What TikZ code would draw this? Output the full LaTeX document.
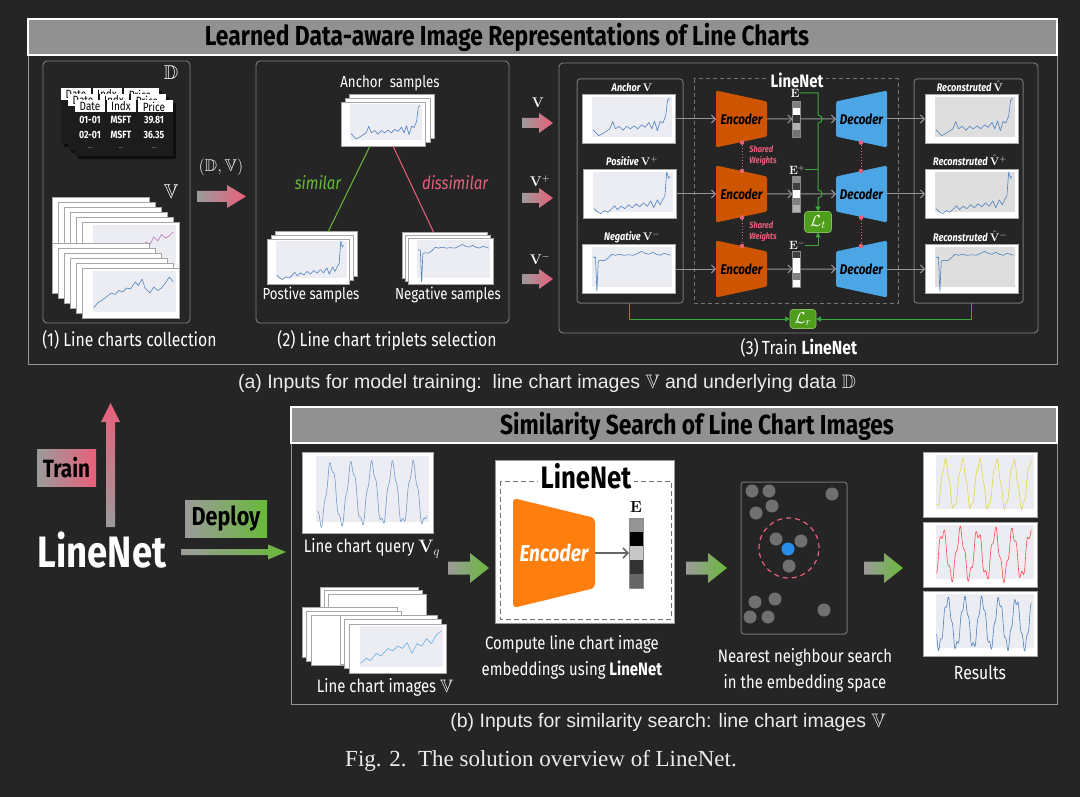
\RequirePackage{fix-cm}
\documentclass[tikz,border=0pt]{standalone}
\usepackage{amsmath,amssymb}
\usepackage[no-math]{fontspec}
\setmainfont{Fira Sans}[FakeStretch=0.83]
\newfontfamily\capfont{Liberation Sans}
\newfontfamily\figfont{Liberation Serif}
\usetikzlibrary{arrows.meta,calc}

\definecolor{bg}{RGB}{37,37,37}
\definecolor{barfill}{RGB}{145,145,145}
\definecolor{pbord}{RGB}{125,125,125}
\definecolor{framec}{RGB}{150,150,150}
\definecolor{pinkA}{RGB}{232,96,122}
\definecolor{greenA}{RGB}{104,185,58}
\definecolor{greyA}{RGB}{155,155,155}
\definecolor{encO}{RGB}{205,85,0}
\definecolor{decB}{RGB}{76,166,230}
\definecolor{encO2}{RGB}{255,127,14}
\definecolor{lossG}{RGB}{78,158,28}
\definecolor{lineG}{RGB}{60,165,60}
\definecolor{plotblue}{RGB}{80,130,190}
\definecolor{plotbg}{RGB}{236,236,243}
\definecolor{arrgray}{RGB}{150,150,150}
\definecolor{dotgray}{RGB}{112,112,112}
\definecolor{qblue}{RGB}{40,140,235}
\definecolor{tabbody}{RGB}{28,28,28}
\definecolor{capwhite}{RGB}{235,235,235}

\newcommand\fsz[1]{\fontsize{#1}{#1}\selectfont}

% series
\newcommand\serA{plot coordinates {(0.12,0.28) (0.15,0.22) (0.18,0.16) (0.22,0.2) (0.26,0.25) (0.3,0.3) (0.33,0.45) (0.36,0.3) (0.4,0.35) (0.44,0.27) (0.48,0.35) (0.52,0.3) (0.56,0.36) (0.6,0.3) (0.64,0.38) (0.68,0.33) (0.72,0.43) (0.75,0.3) (0.78,0.46) (0.81,0.26) (0.84,0.45) (0.87,0.42) (0.9,0.56) (0.92,0.88) (0.94,0.92)}}
\newcommand\serP{plot coordinates {(0.12,0.2) (0.15,0.14) (0.19,0.1) (0.23,0.16) (0.27,0.13) (0.31,0.2) (0.34,0.26) (0.37,0.18) (0.41,0.25) (0.45,0.2) (0.49,0.28) (0.53,0.22) (0.57,0.3) (0.61,0.24) (0.65,0.32) (0.69,0.25) (0.73,0.36) (0.76,0.22) (0.8,0.38) (0.83,0.28) (0.86,0.4) (0.88,0.45) (0.9,0.95) (0.92,0.82) (0.93,0.86)}}
\newcommand\serN{plot coordinates {(0.12,0.74) (0.145,0.74) (0.16,0.04) (0.175,0.66) (0.2,0.68) (0.24,0.67) (0.28,0.72) (0.32,0.8) (0.36,0.78) (0.4,0.8) (0.45,0.78) (0.5,0.79) (0.55,0.78) (0.6,0.82) (0.64,0.86) (0.68,0.82) (0.72,0.8) (0.76,0.84) (0.8,0.8) (0.84,0.78) (0.88,0.82) (0.92,0.8) (0.95,0.78)}}
\newcommand\serU{plot coordinates {(0.55,0.35) (0.58,0.5) (0.62,0.45) (0.66,0.6) (0.7,0.55) (0.74,0.7) (0.78,0.62) (0.82,0.75) (0.86,0.68) (0.9,0.72) (0.94,0.8)}}
\newcommand\serB{plot coordinates {(0.12,0.2) (0.16,0.3) (0.2,0.35) (0.25,0.42) (0.3,0.5) (0.34,0.47) (0.38,0.55) (0.42,0.52) (0.46,0.6) (0.5,0.58) (0.55,0.72) (0.58,0.65) (0.62,0.78) (0.65,0.6) (0.7,0.5) (0.74,0.62) (0.78,0.55) (0.82,0.6) (0.86,0.7) (0.9,0.82) (0.94,0.72)}}
\newcommand\serC{plot coordinates {(0.12,0.2) (0.18,0.3) (0.22,0.25) (0.28,0.4) (0.33,0.35) (0.4,0.5) (0.45,0.45) (0.5,0.55) (0.55,0.5) (0.6,0.62) (0.65,0.4) (0.7,0.6) (0.75,0.55) (0.8,0.7) (0.85,0.6) (0.9,0.78) (0.95,0.85)}}
\newcommand\serQ{plot[domain=0.12:0.95,samples=150] (\x,{0.48+0.36*sin(\x*2300-60)+0.06*sin(\x*9000)})}
\newcommand\serY{plot[domain=0.12:0.95,samples=150] (\x,{0.5+0.36*sin(\x*2400-20)+0.05*sin(\x*9500)})}
\newcommand\serR{plot[domain=0.12:0.95,samples=150] (\x,{0.5+0.35*sin(\x*2350+40)+0.09*sin(\x*8000)})}
\newcommand\serBl{plot[domain=0.12:0.95,samples=150] (\x,{0.5+0.36*sin(\x*2400-70)+0.07*sin(\x*10000)})}

\newcommand\lchart[7]{%
  \node[chartimg, minimum width=#4pt, minimum height=#5pt] (#1) at (#2,#3) {};
  \begin{scope}[shift={(#1.south west)}, x=#4pt, y=#5pt]
    \fill[cbg] (0.11,0.13) rectangle (0.97,0.95);
    \draw[line width=0.6pt, line join=round, #6] #7;
  \end{scope}}
\newcommand\stk[7]{%
  \foreach \i in {1,...,#5} {\filldraw[chartimg] ({#1+(\i-1)*#3},{#2+(\i-1)*#4}) rectangle ++(#6,#7);}}
\newcommand\barrow[8]{%
  \shade[left color=#7, right color=#8] (#1,{#3-#4}) -- ({#2-#6},{#3-#4}) -- ({#2-#6},{#3-#5}) -- (#2,#3) -- ({#2-#6},{#3+#5}) -- ({#2-#6},{#3+#4}) -- (#1,{#3+#4}) -- cycle;}
\newcommand\trapz[7]{%
  \fill[#6] ({#2-25.5},{#3-#4}) -- ({#2+25.5},{#3-#5}) -- ({#2+25.5},{#3+#5}) -- ({#2-25.5},{#3+#4}) -- cycle;
  \node[#6txt, minimum width=51pt, minimum height=57pt] (#1) at (#2,#3) {#7};}
\newcommand\embvec[6]{%
  \foreach \c [count=\k] in {#6} {\fill[\c] ({#2-#4/2},{#3+(\k-1)*#5}) rectangle ++(#4,#5);}
  \node[draw=black!45, line width=0.6pt, minimum width=#4pt, minimum height={5*#5pt}] (#1) at (#2,{#3+2.5*#5}) {};}
\newcommand\dtable[3]{%
  \fill[black, opacity=0.6] ({#1+3},{#2+3}) rectangle ({#1+101},{#2+59});
  \fill[tabbody] (#1,#2) rectangle ({#1+98},{#2+56});
  \fill[white] (#1,#2) rectangle ({#1+98},{#2+12});
  \draw[tabbody, line width=1.5pt] ({#1+31},#2) -- ({#1+31},{#2+12}) ({#1+62},#2) -- ({#1+62},{#2+12});
  \node[font=\fsz{12}, text=black] (#3h1) at ({#1+15},{#2+6.5}) {Date};
  \node[font=\fsz{12}, text=black] (#3h2) at ({#1+46},{#2+6.5}) {Indx};
  \node[font=\fsz{12}, text=black] (#3h3) at ({#1+79},{#2+6.5}) {Price};}
\newcommand\dbody[3]{%
  \node[font=\fsz{10.5}\bfseries, text=white] (#3a1) at ({#1+15},{#2+20}) {01-01};
  \node[font=\fsz{10.5}\bfseries, text=white] (#3a2) at ({#1+46},{#2+20}) {MSFT};
  \node[font=\fsz{10.5}\bfseries, text=white] (#3a3) at ({#1+79},{#2+20}) {39.81};
  \node[font=\fsz{10.5}\bfseries, text=white] (#3b1) at ({#1+15},{#2+35}) {02-01};
  \node[font=\fsz{10.5}\bfseries, text=white] (#3b2) at ({#1+46},{#2+35}) {MSFT};
  \node[font=\fsz{10.5}\bfseries, text=white] (#3b3) at ({#1+79},{#2+35}) {36.35};
  \node[font=\fsz{8}, text=black!45] (#3c1) at ({#1+15},{#2+48}) {...};
  \node[font=\fsz{8}, text=black!45] (#3c2) at ({#1+46},{#2+48}) {...};
  \node[font=\fsz{8}, text=black!45] (#3c3) at ({#1+79},{#2+48}) {...};}

\begin{document}
\begin{tikzpicture}[x=1pt,y=-1pt,
  every node/.style={inner sep=0pt, outer sep=0pt},
  panel/.style={draw=pbord, line width=0.9pt, rounded corners=4pt},
  innerbox/.style={draw=black!55, line width=1pt, rounded corners=3pt},
  chartimg/.style={draw=black!35, fill=white, line width=0.4pt, inner sep=0pt},
  cbg/.style={fill=plotbg},
  bar/.style={draw=white, line width=1.2pt, fill=barfill},
  titletxt/.style={font=\fsz{27.5}\bfseries, text=black},
  lbl/.style={text=white},
  garrow/.style={draw=arrgray, line width=1pt, -{Straight Barb[length=4pt,width=8pt]}},
  greenln/.style={draw=lineG, line width=1pt},
  gtip/.style={-{Triangle[length=5pt,width=5pt]}},
  lossbox/.style={fill=lossG, draw=lossG!70!white, line width=0.6pt, rounded corners=3pt, text=white, font=\fsz{16}},
  enc/.style={fill=encO, rounded corners=1.5pt},
  enctxt/.style={font=\fsz{14}\bfseries\itshape, text=black},
  dec/.style={fill=decB, rounded corners=1.5pt},
  dectxt/.style={font=\fsz{14}\bfseries\itshape, text=black},
  shw/.style={draw=pinkA, line width=1pt, dotted},
  shwtxt/.style={font=\fontsize{9}{11}\selectfont\bfseries\itshape, text=pinkA, align=left},
  plab/.style={font=\fsz{11}\bfseries\itshape, text=white},
  darkarrow/.style={draw=black!60, line width=1.5pt, -{Straight Barb[length=5pt,width=10pt]}}
]
\fill[bg] (0,0) rectangle (1080,797);
\useasboundingbox (0,0) rectangle (1080,797);

% ================= TOP SECTION =================
\draw[framec, line width=1pt] (28,19) rectangle (1057,364);
\node[bar, minimum width=1029pt, minimum height=36pt] (bar1) at (542.5,37) {};
\node[titletxt] (title1) at (507,37) {Learned Data-aware Image Representations of Line Charts};

\draw[panel] (43,61) rectangle (190,323);
\draw[panel] (256,61) rectangle (509,323);
\draw[panel] (559,63) rectangle (1038,333);
\node[lbl, font=\fsz{19}] (lab1) at (129.5,340) {(1) Line charts collection};
\node[lbl, font=\fsz{19}] (lab2) at (387,340) {(2) Line chart triplets selection};
\node[lbl, font=\fsz{19}] (lab3) at (799,348) {(3)\,Train \textbf{LineNet}};

% ---- panel 1
\dtable{61}{88}{tA}
\dtable{68}{94}{tB}
\dtable{75}{100}{tC}
\dbody{75}{100}{tC}
\node[lbl, font=\fsz{20}] (Dsym) at (171,73) {$\mathbb{D}$};
\node[lbl, font=\fsz{20}] (Vsym) at (171,192) {$\mathbb{V}$};
\stk{52}{197}{6}{5}{5}{97}{50}
\lchart{pc1}{130.5}{247}{97}{50}{violet!55}{\serU}
\stk{52}{243}{6}{5}{5}{97}{50}
\lchart{pc2}{130.5}{293}{97}{50}{plotblue}{\serB}

\barrow{197}{246}{196.5}{5.5}{11.5}{19}{greyA}{pinkA}
\node[lbl, font=\fsz{17}] (DV) at (221,167) {$(\mathbb{D},\mathbb{V})$};

% ---- panel 2
\node[lbl, font=\fsz{16}] (anch) at (390,83) {Anchor\ \ samples};
\stk{349}{94}{-4}{4}{2}{85}{44}
\lchart{a0}{383}{124}{84}{44}{plotblue}{\serA}
\stk{275}{231}{-4}{4}{2}{82}{45}
\lchart{p0}{308}{261.5}{82}{45}{plotblue}{\serP}
\stk{402}{232}{3}{3}{2}{85}{46}
\lchart{n0}{450.5}{261}{85}{46}{plotblue}{\serN}
\draw[greenA, line width=1pt] ([xshift=-13pt]a0.south) -- ([xshift=20pt,yshift=7pt]p0.north);
\draw[pinkA, line width=1pt] ([xshift=10pt]a0.south) -- ([xshift=-17pt,yshift=6pt]n0.north);
\node[font=\fsz{18}\itshape, text=greenA] (simlab) at (318,183) {similar};
\node[font=\fsz{18}\itshape, text=pinkA] (dislab) at (455,183) {dissimilar};
\node[lbl, font=\fsz{16}] (poslab) at (311,295) {Postive samples};
\node[lbl, font=\fsz{16}] (neglab) at (448,295) {Negative samples};

% ---- triplet arrows
\barrow{522}{553}{123}{5}{10}{14}{greyA}{pinkA}
\barrow{522}{553}{198}{5}{10}{14}{greyA}{pinkA}
\barrow{522}{553}{279}{5}{10}{14}{greyA}{pinkA}
\node[lbl, font=\fsz{14}] (va) at (538,103) {$\mathbf{V}$};
\node[lbl, font=\fsz{14}] (vp) at (540,181) {$\mathbf{V}^{+}$};
\node[lbl, font=\fsz{14}] (vn) at (540,259) {$\mathbf{V}^{-}$};

% ---- panel 3
\node[innerbox, minimum width=106pt, minimum height=224pt] (inL) at (630,191) {};
\node[innerbox, minimum width=109pt, minimum height=224pt] (inR) at (968.5,191) {};
\draw[black!55, line width=1pt, dash pattern=on 4pt off 3pt] (694,79) rectangle (898,303);
\node[fill=bg, inner xsep=3pt, font=\fsz{18}\bfseries, text=white] (lnlab) at (797,80) {LineNet};

\node[plab] (anl) at (632,87) {Anchor $\mathbf{V}$};
\node[plab] (pol) at (632,161) {Positive $\mathbf{V}^{+}$};
\node[plab] (nel) at (632,237) {Negative $\mathbf{V}^{-}$};
\lchart{ca}{628.5}{119}{93}{49}{plotblue}{\serA}
\lchart{cp}{629.5}{194}{93}{49}{plotblue}{\serP}
\lchart{cn}{628.5}{269}{93}{49}{plotblue}{\serN}

\node[plab] (ral) at (970,86) {Reconstruted $\hat{\mathbf{V}}$};
\node[plab] (rpl) at (970,160) {Reconstruted $\hat{\mathbf{V}}^{+}$};
\node[plab] (rnl) at (970,236) {Reconstruted $\hat{\mathbf{V}}^{-}$};
\begin{scope}[cbg/.style={fill=black!13}]
\lchart{ra}{971.5}{119}{93}{49}{plotblue}{\serA}
\lchart{rp}{971.5}{194}{93}{49}{plotblue}{\serP}
\lchart{rn}{971.5}{269}{93}{49}{plotblue}{\serN}
\end{scope}

\trapz{e1}{741.5}{119}{28.5}{17.5}{enc}{Encoder}
\trapz{e2}{741.5}{194}{28.5}{17.5}{enc}{Encoder}
\trapz{e3}{741.5}{269}{28.5}{17.5}{enc}{Encoder}
\trapz{d1}{861.5}{119}{17.5}{28.5}{dec}{Decoder}
\trapz{d2}{861.5}{194}{17.5}{28.5}{dec}{Decoder}
\trapz{d3}{861.5}{269}{17.5}{28.5}{dec}{Decoder}

\embvec{v1}{796.5}{101}{8}{7.2}{black!50,white,black!80,black!30,black!55}
\embvec{v2}{796.5}{176}{8}{7.2}{black!45,black!75,white,black!50,black!30}
\embvec{v3}{796.5}{251}{8}{7.2}{black!75,white,white,black!50,white}
\node[lbl, font=\fsz{12}] (E1) at (795,93) {$\mathbf{E}$};
\node[lbl, font=\fsz{12}] (E2) at (797,170) {$\mathbf{E}^{+}$};
\node[lbl, font=\fsz{12}] (E3) at (797,245) {$\mathbf{E}^{-}$};

\foreach \r in {1,2,3} {
  \draw[garrow] (e\r.east) -- (v\r.west);
  \draw[garrow] (v\r.east) -- (d\r.west);
}
\draw[garrow] (ca.east) -- (e1.west);
\draw[garrow] (cp.east) -- (e2.west);
\draw[garrow] (cn.east) -- (e3.west);
\draw[garrow] (d1.east) -- (ra.west);
\draw[garrow] (d2.east) -- (rp.west);
\draw[garrow] (d3.east) -- (rn.west);

% shared weights
\draw[shw] (742,142.5) -- (742,171);
\draw[shw] (742,217.5) -- (742,246);
\draw[shw] (861,142.5) -- (861,171);
\draw[shw] (861,217.5) -- (861,246);
\foreach \px/\py in {742/142.5,742/171,742/217.5,742/246,861/142.5,861/171,861/217.5,861/246}
  \fill[pinkA] (\px,\py) circle (2.3pt);
\node[shwtxt] (sw1) at (763,156) {Shared\\Weights};
\node[shwtxt] (sw2) at (763,232) {Shared\\Weights};

% losses
\node[lossbox, minimum width=27pt, minimum height=21pt] (Lt) at (818,222) {$\mathcal{L}_t$};
\node[lossbox, minimum width=26pt, minimum height=19pt] (Lr) at (803,319) {$\mathcal{L}_r$};
\draw[greenln, gtip] (E1.east) -- (818,93) -- (818,115) .. controls (823.5,115) and (823.5,123) .. (818,123) -- (818,190) .. controls (823.5,190) and (823.5,198) .. (818,198) -- (Lt.north);
\draw[greenln] (E2.east) -- (818,170);
\draw[greenln, gtip] (E3.east) -- (818,245) -- (Lt.south);
\draw[greenln, gtip] ([xshift=-1pt]inL.south) |- (Lr.west);
\draw[greenln, gtip] ([xshift=3pt]inR.south) |- (Lr.east);

\node[lbl, font=\capfont\fsz{19.5}, text=capwhite] (capa) at (547,383) {(a) Inputs for model training:\ \ line chart images $\mathbb{V}$ and underlying data $\mathbb{D}$};

% ================= BOTTOM LEFT =================
\node[shade, left color=greyA, right color=pinkA, minimum width=59pt, minimum height=37pt, font=\fsz{25}\bfseries, text=black] (trainb) at (66.5,467.5) {Train};
\node[shade, left color=greyA, right color=greenA, minimum width=82pt, minimum height=37pt, font=\fsz{26}\bfseries, text=black] (depb) at (226,518.5) {Deploy};
\node[font=\fsz{44}\bfseries, text=white] (lnbig) at (102,550) {LineNet};
\shade[bottom color=greyA, top color=pinkA] (106,527) -- (106,422) -- (101,422) -- (110.5,403) -- (120,422) -- (115,422) -- (115,527) -- cycle;
\shade[left color=greyA, right color=greenA] (181,549) -- (268,549) -- (268,544.5) -- (286,552) -- (268,559.5) -- (268,555) -- (181,555) -- cycle;

% ================= BOTTOM SECTION =================
\draw[framec, line width=1pt] (291,407) rectangle (1057,704);
\node[bar, minimum width=766pt, minimum height=36pt] (bar2) at (674,425) {};
\node[titletxt] (title2) at (697,426) {Similarity Search of Line Chart Images};

% query
\lchart{qc}{367.5}{492.5}{131}{81}{plotblue!80}{\serQ}
\node[lbl, font=\fsz{18}] (qlab) at (372,548) {Line chart query $\mathbf{V}_q$};
% image stacks
\stk{320}{587}{4}{3.5}{3}{98}{45}
\stk{302}{607}{4.5}{4}{3}{95}{50}
\stk{340}{615}{4.5}{4.5}{2}{97}{49}
\lchart{ic}{397.5}{648.5}{97}{49}{cyan!70!blue!60}{\serC}
\node[lbl, font=\fsz{18}] (ilab) at (385,687) {Line chart images $\mathbb{V}$};

\barrow{448}{489}{568}{6.5}{15}{19}{greyA}{greenA}
\barrow{686}{727}{568}{6.5}{15}{19}{greyA}{greenA}
\barrow{864}{903}{568}{6.5}{15}{19}{greyA}{greenA}

% LineNet white box
\node[draw=black!40, fill=white, minimum width=179pt, minimum height=163pt] (lnw) at (584.5,541.5) {};
\draw[black!55, line width=1pt, dash pattern=on 5pt off 3pt] (500,481) rectangle (671,619);
\node[fill=white, inner xsep=3pt, font=\fsz{31}\bfseries, text=black] (lnwt) at (586,476) {LineNet};
\fill[encO2, rounded corners=4pt] (513,498) -- (595,518) -- (595,588) -- (513,608) -- cycle;
\node[font=\fsz{23}\bfseries\itshape, text=white, minimum width=82pt, minimum height=110pt] (encB) at (554,553) {Encoder};
\embvec{vecB}{636}{518}{14}{14}{black!42,black,black!22,black!80,black!60}
\draw[darkarrow] (encB.east) -- (vecB.west);
\node[font=\fsz{16}, text=black] (Eb) at (636,507) {$\mathbf{E}$};
\node[lbl, font=\fontsize{18}{26}\selectfont, align=center] (clab) at (572,657) {Compute line chart image\\embeddings using \textbf{LineNet}};

% embedding space
\node[draw=black!55, line width=1pt, rounded corners=3pt, minimum width=106pt, minimum height=152pt] (emb) at (794,558) {};
\foreach \px/\py in {752/491, 769/491, 832/494, 772/506, 756/513, 776/539, 801/541, 789/566, 755/602, 775/599, 750/617, 768/617, 824/610}
  \fill[dotgray] (\px,\py) circle (6.5pt);
\fill[qblue] (788,549) circle (6.5pt);
\draw[pinkA, line width=1.2pt, dash pattern=on 5pt off 4pt] (789,548) circle (30pt);
\node[lbl, font=\fontsize{18}{26}\selectfont, align=center] (nlab) at (805,670) {Nearest neighbour search\\in the embedding space};

% results
\lchart{r1}{980}{484.5}{114}{65}{yellow!60!olive!70}{\serY}
\lchart{r2}{980}{554.5}{114}{65}{red!70}{\serR}
\lchart{r3}{980}{623.5}{114}{65}{plotblue}{\serBl}
\node[lbl, font=\fsz{19}] (rlab) at (980,672) {Results};

\node[lbl, font=\capfont\fsz{19.5}, text=capwhite] (capb) at (668,722) {(b) Inputs for similarity search: line chart images $\mathbb{V}$};
\node[lbl, font=\figfont\fsz{23}, text=capwhite] (figcap) at (541,761) {Fig. 2.\ \ The solution overview of LineNet.};
\end{tikzpicture}
\end{document}
